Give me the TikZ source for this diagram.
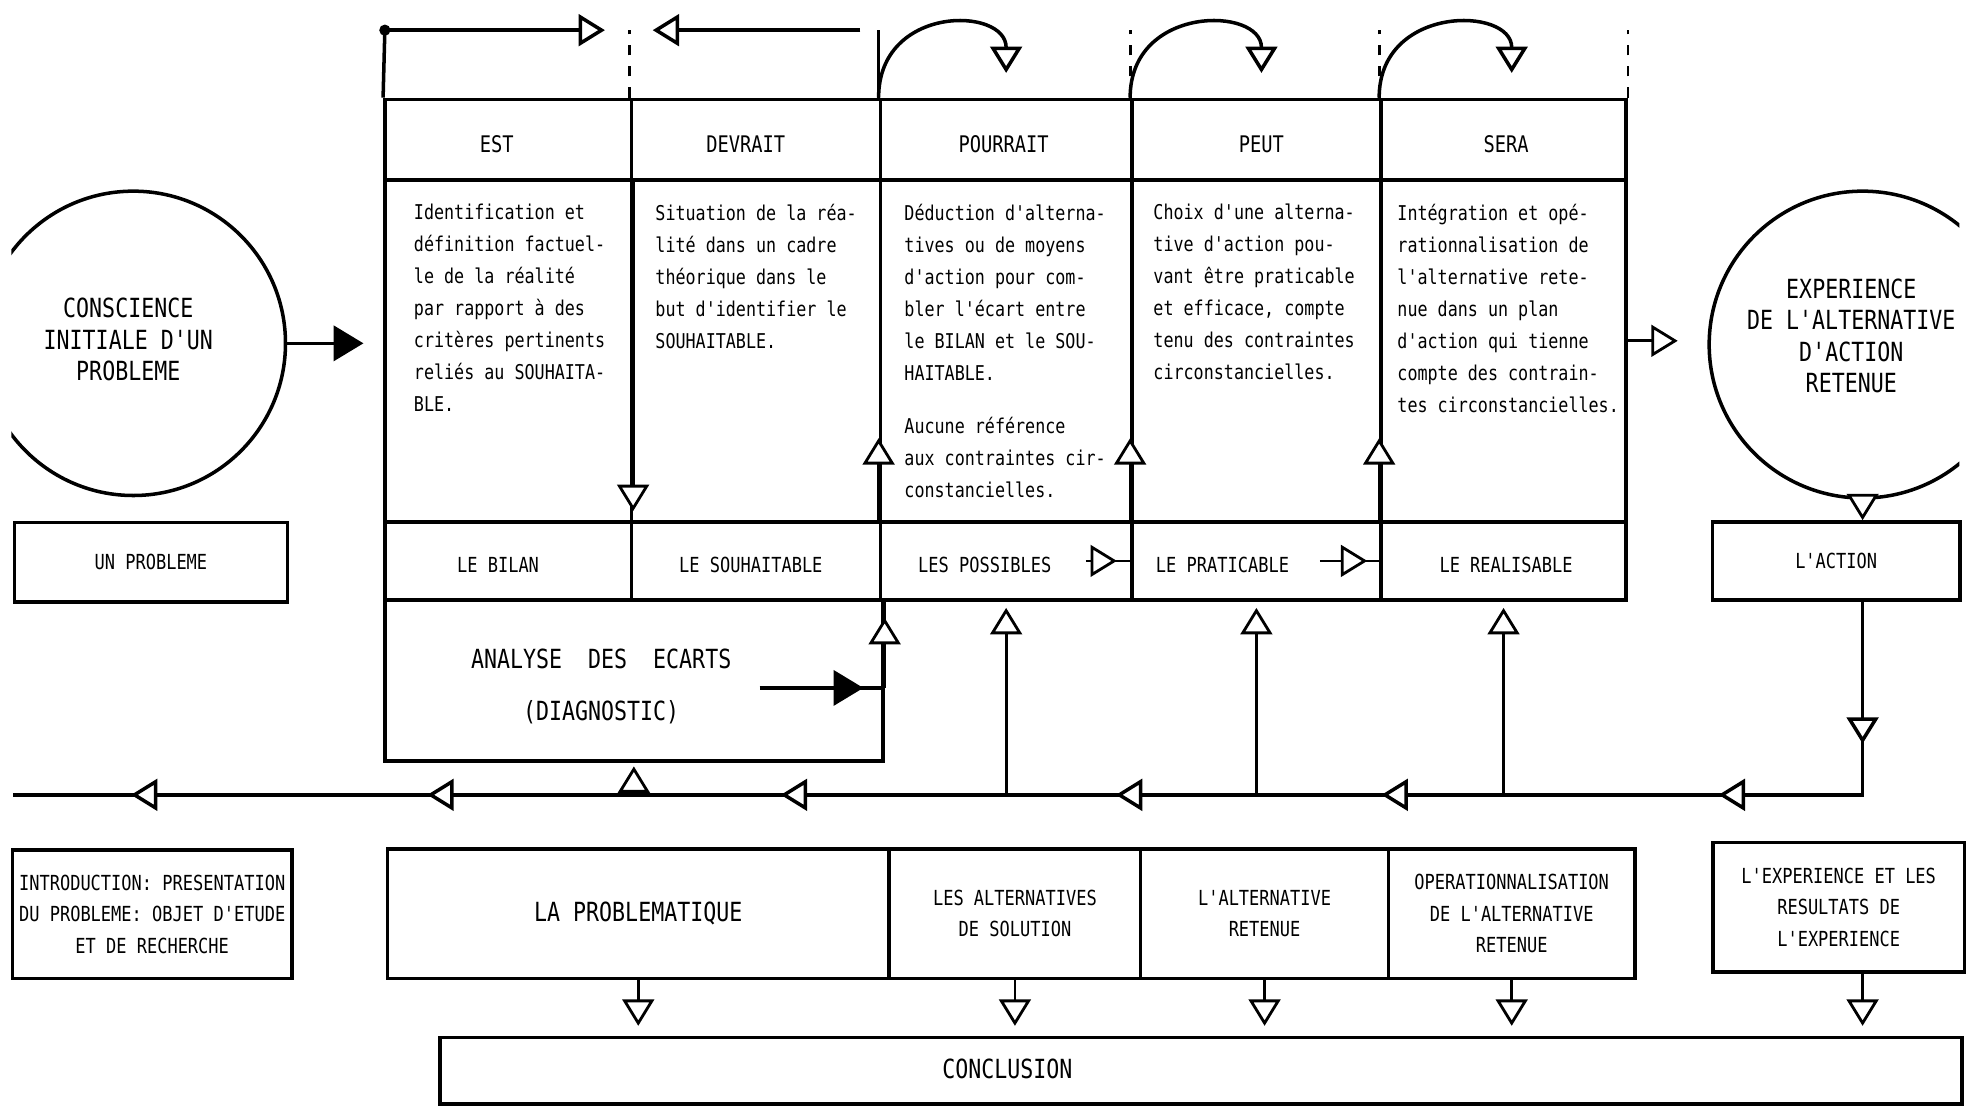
\documentclass[tikz,border=0pt]{standalone}
\usepackage{fontspec}
\usetikzlibrary{arrows.meta}
\usetikzlibrary{decorations.markings}
\newfontfamily\dotfont[FakeStretch=0.82]{DejaVu Sans Mono}
\newcommand\px[1]{(#1)*0.12577mm}

\begin{document}
\begin{tikzpicture}[x=0.12577mm, y=-0.12577mm, font=\dotfont,
    >={Triangle[fill=white,width=9pt,length=7.5pt]},
    box/.style={draw, line width=1pt, inner sep=0pt},
    link/.style={->, line width=0.8pt},
    linkf/.style={-{Triangle[width=10pt,length=8.5pt]}, line width=1pt},
    tipat/.style={postaction={decorate, decoration={markings, mark=at position #1 with {\arrow{>}}}}},
    tipfill/.style={postaction={decorate, decoration={markings, mark=at position #1 with {\arrow{Triangle[width=10pt,length=8.5pt]}}}}},
    fbmarks/.style={postaction={decorate, decoration={markings,
        mark=at position 0.0695 with {\arrow{>}}, mark=at position 0.165 with {\arrow{>}},
        mark=at position 0.330 with {\arrow{>}}, mark=at position 0.460 with {\arrow{>}},
        mark=at position 0.624 with {\arrow{>}}, mark=at position 0.797 with {\arrow{>}},
        mark=at position 0.942 with {\arrow{>}}}}},
    headtxt/.style={font=\dotfont\fontsize{6.5}{8}\selectfont},
    bodytxt/.style={font=\dotfont\fontsize{5.8}{9.1}\selectfont, align=left, anchor=north west, inner sep=0pt},
    labtxt/.style={font=\dotfont\fontsize{5.9}{8.9}\selectfont, align=center},
    bigtxt/.style={font=\dotfont\fontsize{7.5}{8.9}\selectfont, align=center}]

\useasboundingbox (0,0) rectangle (1568,880);

% le tableau
\foreach \name/\lname/\xl/\xr/\dh/\dl/\head/\lab in {est/bilan/306/502/-9/-8/EST/LE BILAN, devrait/souhaitable/502/700/-8/-4/DEVRAIT/LE SOUHAITABLE, pourrait/possibles/700/900/-2/-17/POURRAIT/LES POSSIBLES, peut/praticable/900/1098/4/-27/PEUT/LE PRATICABLE, sera/realisable/1098/1293/2/2/SERA/LE REALISABLE} {
  \node[box, minimum width=\px{\xr-\xl}, minimum height=\px{64}] (\name) at ({(\xl+\xr)/2},111) {};
  \node[headtxt] (\name-txt) at ([xshift=\px{\dh}, yshift=-\px{4}]\name.center) {\head};
  \node[box, minimum width=\px{\xr-\xl}, minimum height=\px{272}] (\name-box) at ({(\xl+\xr)/2},279) {};
  \node[box, minimum width=\px{\xr-\xl}, minimum height=\px{62}] (\lname) at ({(\xl+\xr)/2},446) {};
  \node[labtxt] (\lname-txt) at ([xshift=\px{\dl}, yshift=-\px{3}]\lname.center) {\lab};
}

\node[bodytxt] (est-txt) at ([xshift=\px{24}, yshift=-\px{20}]est-box.north west)
  {Identification et\\définition factuel-\\le de la réalité\\par rapport à des\\critères pertinents\\reliés au SOUHAITA-\\BLE.};
\node[bodytxt] (devrait-txt) at ([xshift=\px{20}, yshift=-\px{20}]devrait-box.north west)
  {Situation de la réa-\\lité dans un cadre\\théorique dans le\\but d'identifier le\\SOUHAITABLE.};
\node[bodytxt] (pourrait-txt) at ([xshift=\px{20}, yshift=-\px{20}]pourrait-box.north west)
  {Déduction d'alterna-\\tives ou de moyens\\d'action pour com-\\bler l'écart entre\\le BILAN et le SOU-\\HAITABLE.\\[6pt]Aucune référence\\aux contraintes cir-\\constancielles.};
\node[bodytxt] (peut-txt) at ([xshift=\px{18}, yshift=-\px{20}]peut-box.north west)
  {Choix d'une alterna-\\tive d'action pou-\\vant être praticable\\et efficace, compte\\tenu des contraintes\\circonstancielles.};
\node[bodytxt] (sera-txt) at ([xshift=\px{14}, yshift=-\px{20}]sera-box.north west)
  {Intégration et opé-\\rationnalisation de\\l'alternative rete-\\nue dans un plan\\d'action qui tienne\\compte des contrain-\\tes circonstancielles.};

\node[box, minimum width=\px{396}, minimum height=\px{128}] (analyse) at (504,541) {};
\node[bigtxt] (analyse-txt) at (478,546) {ANALYSE\ \ DES\ \ ECARTS\\[6pt](DIAGNOSTIC)};

% les cercles
\begin{scope}
  \clip (9,0) rectangle (1558,880);
  \node[draw, circle, line width=1pt, minimum size=\px{242}] (conscience) at (106,273) {};
  \node[draw, circle, line width=1pt, minimum size=\px{244}] (experience) at (1481,274) {};
\end{scope}
\node[bigtxt] (conscience-txt) at (102,270) {CONSCIENCE\\INITIALE D'UN\\PROBLEME};
\node[bigtxt] (experience-txt) at (1472,267) {EXPERIENCE\\DE L'ALTERNATIVE\\D'ACTION\\RETENUE};

\node[box, labtxt, minimum width=\px{217}, minimum height=\px{63}] (probleme) at (120,447) {UN PROBLEME};
\node[box, labtxt, minimum width=\px{197}, minimum height=\px{62}] (action) at (1460,446) {L'ACTION};

% rangée du bas
\node[box, labtxt, minimum width=\px{222}, minimum height=\px{102}] (intro) at (121,727) {INTRODUCTION: PRESENTATION\\DU PROBLEME: OBJET D'ETUDE\\ET DE RECHERCHE};
\node[box, bigtxt, minimum width=\px{399}, minimum height=\px{103}] (problematique) at (507.5,726.5) {LA PROBLEMATIQUE};
\node[box, labtxt, minimum width=\px{200}, minimum height=\px{103}] (alternatives) at (807,726.5) {LES ALTERNATIVES\\DE SOLUTION};
\node[box, labtxt, minimum width=\px{197}, minimum height=\px{103}] (retenue) at (1005.5,726.5) {L'ALTERNATIVE\\RETENUE};
\node[box, labtxt, minimum width=\px{196}, minimum height=\px{103}] (operation) at (1202,726.5) {OPERATIONNALISATION\\DE L'ALTERNATIVE\\RETENUE};
\node[box, labtxt, minimum width=\px{200}, minimum height=\px{103}] (resultats) at (1462,721.5) {L'EXPERIENCE ET LES\\RESULTATS DE\\L'EXPERIENCE};
\node[box, minimum width=\px{1210}, minimum height=\px{53}] (conclusion) at (955,851.5) {};
\node[bigtxt] (conclusion-txt) at (801,850) {CONCLUSION};

% fleches du haut
\coordinate (topA) at (306,24);
\coordinate (topB) at (481,24);
\coordinate (topC) at (519,24);
\coordinate (topD) at (684,24);
\coordinate (dn1) at (800,58);
\coordinate (dn2) at (1003,58);
\coordinate (dn3) at (1202,58);
\draw[line width=1pt] (est.north west) -- (topA);
\fill (topA) circle[radius=1.6pt];
\draw[link, line width=1pt] (topA) -- (topB);
\draw[link, line width=1pt] (topD) -- (topC);
\foreach \n in {devrait, peut, sera}
  \draw[dashed, line width=0.8pt] (\n.north west) -- (\n.north west |- topA);
\draw[dashed, line width=0.8pt] (sera.north east) -- (sera.north east |- topA);
\draw[line width=0.8pt] (pourrait.north west) -- (pourrait.north west |- topA);
\draw[link, line width=1pt] (pourrait.north west) .. controls +(0,-74) and +(0,-53) .. (dn1);
\draw[link, line width=1pt] (peut.north west) .. controls +(0,-74) and +(0,-53) .. (dn2);
\draw[link, line width=1pt] (sera.north west) .. controls +(0,-74) and +(0,-53) .. (dn3);

% fleches du tableau
\draw[link] (est-box.north east) -- ([yshift=\px{10}]est-box.south east);
\foreach \n in {pourrait, peut, sera}
  \draw[link] (\n-box.south west) -- ([yshift=\px{68}]\n-box.south west);
\draw[line width=0.8pt, tipat=0.7] ([xshift=-\px{38}]possibles.east) -- (praticable.west);
\draw[line width=0.8pt, tipat=0.8] ([xshift=-\px{50}]praticable.east) -- (realisable.west);

\coordinate (inL) at (289,273);
\coordinate (outR) at (1334,271);
\draw[linkf] (conscience.east) -- (inL);
\draw[link] (sera-box.east |- outR) -- (outR);
\draw[link] (experience.south) -- (experience.south |- action.north);

% analyse des ecarts
\coordinate (anaIn) at (604,547);
\draw[line width=1pt, tipfill=0.83] (anaIn) -- (analyse.east |- anaIn);
\draw[line width=0.8pt, tipat=0.78] (analyse.east |- anaIn) -- (analyse.north east);

% retour
\coordinate (fbR) at (1481,632);
\coordinate (fbL) at (10,632);
\draw[line width=1pt, fbmarks] (experience.south |- action.south) -- (fbR) -- (fbL);
\foreach \n in {possibles, praticable, realisable}
  \draw[link] (\n.south |- fbR) -- ([yshift=-\px{5}]\n.south);
\draw[link] (analyse.south |- fbR) -- ([yshift=-\px{3}]analyse.south);

% vers la conclusion
\foreach \n in {problematique, alternatives, retenue, operation}
  \draw[link, shorten >=1mm] (\n.south) -- (\n.south |- conclusion.north);
\draw[link, shorten >=1mm] (fbR |- resultats.south) -- (fbR |- conclusion.north);
\end{tikzpicture}
\end{document}
